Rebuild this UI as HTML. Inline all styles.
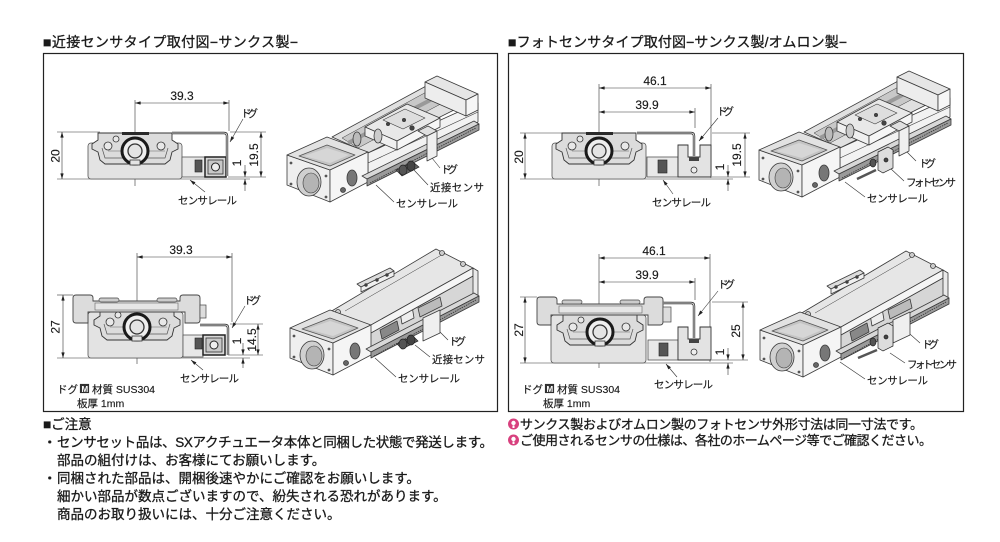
<!DOCTYPE html>
<html><head><meta charset="utf-8"><style>
html,body{margin:0;padding:0;background:#fff;}
svg{display:block;}
text{font-family:"Liberation Sans","Noto Sans CJK JP",sans-serif;fill:#1a1a1a;}
.dk{stroke:#1a1a1a;stroke-width:0.3;}
.lb{stroke:#1a1a1a;stroke-width:0.15;}
</style></head><body>
<svg width="1000" height="542" viewBox="0 0 1000 542" xmlns="http://www.w3.org/2000/svg">
<defs>
<marker id="ar" viewBox="0 0 10 6" refX="10" refY="3" markerWidth="6" markerHeight="3.4" markerUnits="userSpaceOnUse" orient="auto-start-reverse"><path d="M0,0 L10,3 L0,6 Z" fill="#222"/></marker>
<g id="carA">
<path d="M-37,-18 L37,-18 L37,-11 L43,-7 L43,-2 L37,1 L35,9 L30,13 L-30,13 L-35,9 L-37,1 L-43,-2 L-43,-7 L-37,-11 Z" fill="#dcdcdc" stroke="#333" stroke-width="0.9"/>
<path d="M-33,-3 L-30,7 L30,7 L33,-3" fill="none" stroke="#555" stroke-width="0.7"/>
<circle cx="-27" cy="-5" r="4" fill="#e8e8e8" stroke="#333" stroke-width="0.8"/>
<circle cx="-19" cy="-12" r="3" fill="#e8e8e8" stroke="#333" stroke-width="0.8"/>
<circle cx="26" cy="-5" r="4" fill="#e8e8e8" stroke="#333" stroke-width="0.8"/>
<line x1="-27" y1="0" x2="30" y2="0" stroke="#666" stroke-width="0.5"/>
</g>
<g id="nut">
<circle r="13" fill="#efefef" stroke="#1a1a1a" stroke-width="3"/>
<circle r="7" fill="#e4e4e4" stroke="#333" stroke-width="1.3"/>
<rect x="-5" y="9" width="10" height="5" fill="#e4e4e4" stroke="#333" stroke-width="0.8"/>
</g>
<g id="eb" stroke="#3a3a3a" stroke-width="0.8" stroke-linejoin="round">
<polygon points="287,155 330,170 330,202 287,185" fill="#efefef"/>
<polygon points="287,155 327,137 368,152 330,170" fill="#e2e2e2"/>
<polygon points="330,170 368,152 368,182 330,202" fill="#f5f5f5"/>
<polygon points="299,156 327,145 355,155 330,166" fill="#c4c4c4" stroke="#555"/>
<polygon points="304,156 327,148 349,155 330,163" fill="#d6d6d6" stroke="none"/>
<ellipse cx="309" cy="182" rx="12" ry="14" fill="#d0d0d0"/>
<ellipse cx="311" cy="183" rx="8" ry="10" fill="#b4b4b4" stroke-width="0.6"/>
<circle cx="291" cy="163" r="1.4" fill="#555" stroke="none"/>
<circle cx="291" cy="184" r="1.4" fill="#555" stroke="none"/>
<circle cx="326" cy="176" r="1.4" fill="#555" stroke="none"/>
<circle cx="326" cy="197" r="1.4" fill="#555" stroke="none"/>
<ellipse cx="352" cy="178" rx="5" ry="8" fill="#777"/>
<circle cx="343" cy="190" r="2.5" fill="#666"/>
</g>
<g id="iso1" stroke="#3a3a3a" stroke-width="0.8" stroke-linejoin="round">
<polygon points="332,137 428,85 468,103 368,153" fill="#e0e0e0"/>
<polygon points="342,138 430,90 450,99 358,148" fill="#c8c8c8" stroke-width="0.5"/>
<line x1="348" y1="143" x2="440" y2="95" stroke="#999" stroke-width="4"/>
<ellipse cx="357" cy="139" rx="4" ry="7" fill="#bbb"/>
<polygon points="368,153 478,103 478,122 368,175" fill="#f2f2f2"/>
<line x1="368" y1="163" x2="478" y2="112" stroke-width="0.6"/>
<polygon points="425,82 437,76 478,94 466,100" fill="#e6e6e6"/>
<polygon points="425,82 466,100 466,116 425,98" fill="#ededed"/>
<polygon points="466,100 478,94 478,110 466,116" fill="#f6f6f6"/>
<polygon points="365,127 407,104 440,118 397,141" fill="#e8e8e8"/>
<polygon points="365,127 397,141 397,150 365,136" fill="#f0f0f0"/>
<polygon points="397,141 440,118 440,127 397,150" fill="#f6f6f6"/>
<polygon points="383,120 405,109 425,118 403,129" fill="#dedede" stroke-width="0.6"/>
<circle cx="388" cy="124" r="1.6" fill="#444"/>
<circle cx="404" cy="120" r="1.6" fill="#444"/>
<circle cx="412" cy="128" r="2.2" fill="#444"/>
<ellipse cx="378" cy="136" rx="4" ry="7" fill="#ccc"/>
<use href="#eb"/>
<polygon points="362,176 474,121 479,124 367,179" fill="#d8d8d8"/>
<polygon points="367,179 479,124 479,130 367,186" fill="#9a9a9a"/>
<line x1="370" y1="183" x2="476" y2="128" stroke="#333" stroke-dasharray="1.5,1"/>
<polygon points="418,131 428,126 437,131 427,136" fill="#e0e0e0"/>
<polygon points="427,136 437,131 437,156 427,161" fill="#efefef"/>
</g>
<g id="iso2" stroke="#3a3a3a" stroke-width="0.8" stroke-linejoin="round">
<polygon points="362,338 473,276 478,300 368,352" fill="#d6d6d6"/>
<polygon points="400,312 412,306 414,318 402,324" fill="#eee"/>
<polygon points="380,330 397,321 399,330 382,339" fill="#888"/>
<polygon points="418,308 440,297 442,306 420,317" fill="#bbb"/>
<polygon points="330,312 436,249 473,268 362,330" fill="#e6e6e6"/>
<line x1="345" y1="311" x2="445" y2="253" stroke-width="0.5"/>
<polygon points="362,330 473,268 473,276 362,338" fill="#f5f5f5"/>
<polygon points="473,268 478,271 478,300 473,296" fill="#eaeaea"/>
<polygon points="357,284 390,268 394,271 361,287" fill="#ddd"/>
<polygon points="361,287 394,271 394,276 361,292" fill="#f0f0f0"/>
<circle cx="366" cy="285" r="1.3" fill="#444"/><circle cx="377" cy="280" r="1.3" fill="#444"/><circle cx="387" cy="275" r="1.3" fill="#444"/>
<circle cx="338" cy="312" r="2.5" fill="#ccc"/>
<circle cx="362" cy="326" r="2.5" fill="#ccc"/>
<circle cx="442" cy="253" r="2.5" fill="#ccc"/>
<circle cx="463" cy="264" r="2.5" fill="#ccc"/>
<use href="#eb" transform="translate(3,173)"/>
<polygon points="366,349 474,293 479,296 371,352" fill="#d8d8d8"/>
<polygon points="371,352 479,296 479,302 371,358" fill="#9a9a9a"/>
<line x1="374" y1="356" x2="476" y2="300" stroke="#333" stroke-dasharray="1.5,1"/>
<polygon points="423,318 440,310 440,333 423,341" fill="#efefef"/>
</g>
</defs>

<!-- Titles -->
<text class="dk" x="43" y="47" font-size="14" textLength="255">■近接センサタイプ取付図−サンクス製−</text>
<text class="dk" x="508" y="47" font-size="14" textLength="339">■フォトセンサタイプ取付図−サンクス製/オムロン製−</text>

<!-- Frames -->
<rect x="43.5" y="53.5" width="454" height="358" fill="none" stroke="#222" stroke-width="1.2"/>
<rect x="508.5" y="53.5" width="455" height="358" fill="none" stroke="#222" stroke-width="1.2"/>

<g stroke="#333" stroke-width="0.6" fill="none">
<!-- ===== Top-left front view ===== -->
<line x1="135" y1="100" x2="135" y2="186"/>
<line x1="229" y1="100" x2="229" y2="131"/>
<line x1="135" y1="103" x2="229" y2="103" marker-start="url(#ar)" marker-end="url(#ar)"/>
<line x1="57" y1="132" x2="100" y2="132"/>
<line x1="57" y1="179" x2="250" y2="179"/>
<line x1="62" y1="132" x2="62" y2="179" marker-start="url(#ar)" marker-end="url(#ar)"/>
<line x1="230" y1="132" x2="266" y2="132"/>
<line x1="228" y1="177" x2="266" y2="177"/>
<line x1="261" y1="132" x2="261" y2="177" marker-start="url(#ar)" marker-end="url(#ar)"/>
<line x1="245" y1="165" x2="245" y2="177" marker-end="url(#ar)"/>
<line x1="245" y1="191" x2="245" y2="179" marker-end="url(#ar)"/>
<line x1="243" y1="119" x2="230" y2="142" marker-end="url(#ar)"/>
<line x1="205" y1="192" x2="190" y2="180" marker-end="url(#ar)"/>

<!-- ===== Bottom-left front view ===== -->
<line x1="137" y1="253" x2="137" y2="364"/>
<line x1="232" y1="253" x2="232" y2="322"/>
<line x1="137" y1="257" x2="232" y2="257" marker-start="url(#ar)" marker-end="url(#ar)"/>
<line x1="57" y1="295" x2="73" y2="295"/>
<line x1="57" y1="358" x2="250" y2="358"/>
<line x1="63" y1="295" x2="63" y2="358" marker-start="url(#ar)" marker-end="url(#ar)"/>
<line x1="230" y1="324" x2="263" y2="324"/>
<line x1="228" y1="355" x2="263" y2="355"/>
<line x1="258" y1="324" x2="258" y2="355" marker-start="url(#ar)" marker-end="url(#ar)"/>
<line x1="243" y1="343" x2="243" y2="355" marker-end="url(#ar)"/>
<line x1="243" y1="368" x2="243" y2="358" marker-end="url(#ar)"/>
<line x1="245" y1="306" x2="232" y2="328" marker-end="url(#ar)"/>
<line x1="203" y1="370" x2="191" y2="360" marker-end="url(#ar)"/>

<!-- ===== Top-right front view ===== -->
<line x1="599" y1="84" x2="599" y2="186"/>
<line x1="711" y1="84" x2="711" y2="178"/>
<line x1="695" y1="108" x2="695" y2="128"/>
<line x1="599" y1="88" x2="711" y2="88" marker-start="url(#ar)" marker-end="url(#ar)"/>
<line x1="599" y1="112" x2="695" y2="112" marker-start="url(#ar)" marker-end="url(#ar)"/>
<line x1="520" y1="133" x2="563" y2="133"/>
<line x1="520" y1="179" x2="733" y2="179"/>
<line x1="525" y1="133" x2="525" y2="179" marker-start="url(#ar)" marker-end="url(#ar)"/>
<line x1="712" y1="133" x2="750" y2="133"/>
<line x1="712" y1="177" x2="750" y2="177"/>
<line x1="745" y1="133" x2="745" y2="177" marker-start="url(#ar)" marker-end="url(#ar)"/>
<line x1="728" y1="165" x2="728" y2="177" marker-end="url(#ar)"/>
<line x1="728" y1="191" x2="728" y2="179" marker-end="url(#ar)"/>
<line x1="718" y1="118" x2="699" y2="141" marker-end="url(#ar)"/>
<line x1="673" y1="194" x2="663" y2="180" marker-end="url(#ar)"/>

<!-- ===== Bottom-right front view ===== -->
<line x1="599" y1="254" x2="599" y2="368"/>
<line x1="710" y1="254" x2="710" y2="362"/>
<line x1="695" y1="278" x2="695" y2="300"/>
<line x1="599" y1="258" x2="710" y2="258" marker-start="url(#ar)" marker-end="url(#ar)"/>
<line x1="599" y1="282" x2="695" y2="282" marker-start="url(#ar)" marker-end="url(#ar)"/>
<line x1="520" y1="297" x2="537" y2="297"/>
<line x1="520" y1="363" x2="733" y2="363"/>
<line x1="525" y1="297" x2="525" y2="363" marker-start="url(#ar)" marker-end="url(#ar)"/>
<line x1="712" y1="302" x2="748" y2="302"/>
<line x1="712" y1="360" x2="748" y2="360"/>
<line x1="743" y1="302" x2="743" y2="360" marker-start="url(#ar)" marker-end="url(#ar)"/>
<line x1="728" y1="348" x2="728" y2="360" marker-end="url(#ar)"/>
<line x1="728" y1="375" x2="728" y2="363" marker-end="url(#ar)"/>
<line x1="718" y1="291" x2="698" y2="316" marker-end="url(#ar)"/>
<line x1="677" y1="377" x2="666" y2="364" marker-end="url(#ar)"/>

<!-- ===== 3D leaders ===== -->
<line x1="440" y1="168" x2="432" y2="158"/>
<line x1="428" y1="185" x2="414" y2="170"/>
<line x1="394" y1="202" x2="376" y2="185"/>
<line x1="448" y1="340" x2="438" y2="330"/>
<line x1="430" y1="357" x2="415" y2="345"/>
<line x1="396" y1="377" x2="375" y2="358"/>
<line x1="916" y1="161" x2="903" y2="148"/>
<line x1="904" y1="181" x2="890" y2="168"/>
<line x1="865" y1="197" x2="845" y2="182"/>
<line x1="920" y1="343" x2="902" y2="327"/>
<line x1="905" y1="363" x2="890" y2="353"/>
<line x1="865" y1="379" x2="840" y2="362"/>
</g>

<!-- ===== Front view bodies ===== -->
<!-- top-left -->
<rect x="88" y="143" width="94" height="36" rx="3" fill="#e3e3e3" stroke="#555" stroke-width="0.8"/>
<use href="#carA" x="135" y="151"/>
<rect x="122" y="132" width="27" height="3" fill="#2a2a2a"/>
<use href="#nut" x="135" y="151"/>
<rect x="182" y="157" width="23" height="20" fill="#e8e8e8" stroke="#555" stroke-width="0.8"/>
<rect x="195" y="160" width="7" height="12" fill="#555" stroke="#222" stroke-width="0.6"/>
<rect x="205" y="157" width="21" height="20" fill="#d8d8d8" stroke="#222" stroke-width="1.5"/>
<rect x="208" y="160" width="15" height="14" fill="#c8c8c8" stroke="#333" stroke-width="0.8"/>
<circle cx="215.5" cy="167" r="4" fill="#eee" stroke="#222" stroke-width="1"/>
<path d="M172,133 L224,133 Q227,133 227,136 L227,176" fill="none" stroke="#333" stroke-width="2.4"/>
<path d="M172,133 L224,133 Q227,133 227,136 L227,176" fill="none" stroke="#fff" stroke-width="0.8"/>

<!-- bottom-left -->
<rect x="88" y="312" width="95" height="46" rx="3" fill="#e3e3e3" stroke="#555" stroke-width="0.8"/>
<use href="#carA" x="137" y="327"/>
<path d="M73,298 Q73,295 76,295 L90,295 Q93,295 93,298 L93,301 L180,301 L180,298 Q180,295 183,295 L197,295 Q200,295 200,298 L200,320 Q200,323 197,323 L185,323 L185,312 L88,312 L88,323 L76,323 Q73,323 73,320 Z" fill="#dcdcdc" stroke="#444" stroke-width="0.9"/>
<rect x="99" y="298" width="20" height="4" rx="2" fill="#ccc" stroke="#444" stroke-width="0.7"/>
<rect x="157" y="298" width="20" height="4" rx="2" fill="#ccc" stroke="#444" stroke-width="0.7"/>
<rect x="95" y="303" width="83" height="7" fill="#e6e6e6" stroke="#666" stroke-width="0.6"/>
<use href="#nut" x="137" y="327"/>
<rect x="200" y="305" width="6" height="13" fill="#ddd" stroke="#444" stroke-width="0.7"/>
<rect x="183" y="335" width="20" height="22" fill="#e8e8e8" stroke="#555" stroke-width="0.8"/>
<rect x="195" y="338" width="7" height="11" fill="#555" stroke="#222" stroke-width="0.6"/>
<rect x="203" y="335" width="22" height="20" fill="#d8d8d8" stroke="#222" stroke-width="1.5"/>
<rect x="206" y="338" width="16" height="14" fill="#c8c8c8" stroke="#333" stroke-width="0.8"/>
<circle cx="214" cy="345" r="4" fill="#eee" stroke="#222" stroke-width="1"/>
<path d="M200,325 L225,325 Q228,325 228,328 L228,355" fill="none" stroke="#333" stroke-width="2.4"/>
<path d="M200,325 L225,325 Q228,325 228,328 L228,355" fill="none" stroke="#fff" stroke-width="0.8"/>

<!-- top-right -->
<rect x="552" y="143" width="94" height="36" rx="3" fill="#e3e3e3" stroke="#555" stroke-width="0.8"/>
<use href="#carA" x="599" y="151"/>
<rect x="586" y="132" width="27" height="3" fill="#2a2a2a"/>
<use href="#nut" x="599" y="151"/>
<rect x="647" y="157" width="31" height="20" fill="#e8e8e8" stroke="#555" stroke-width="0.8"/>
<rect x="658" y="160" width="9" height="13" fill="#555" stroke="#222" stroke-width="0.6"/>
<path d="M678,145 L688,145 L688,157 L700,157 L700,145 L711,145 L711,177 L678,177 Z" fill="#e3e3e3" stroke="#333" stroke-width="0.9"/>
<rect x="689" y="157" width="10" height="4" fill="#444"/>
<circle cx="694" cy="170" r="3" fill="#eee" stroke="#333" stroke-width="0.8"/>
<path d="M637,133 L691,133 Q694,133 694,136 L694,156" fill="none" stroke="#333" stroke-width="2.4"/>
<path d="M637,133 L691,133 Q694,133 694,136 L694,156" fill="none" stroke="#fff" stroke-width="0.8"/>

<!-- bottom-right -->
<rect x="551" y="315" width="95" height="48" rx="3" fill="#e3e3e3" stroke="#555" stroke-width="0.8"/>
<use href="#carA" x="600" y="332"/>
<path d="M537,300 Q537,297 540,297 L554,297 Q557,297 557,300 L557,304 L644,304 L644,300 Q644,297 647,297 L660,297 Q663,297 663,300 L663,322 Q663,325 660,325 L648,325 L648,315 L551,315 L551,325 L540,325 Q537,325 537,322 Z" fill="#dcdcdc" stroke="#444" stroke-width="0.9"/>
<rect x="562" y="300" width="20" height="4" rx="2" fill="#ccc" stroke="#444" stroke-width="0.7"/>
<rect x="620" y="300" width="20" height="4" rx="2" fill="#ccc" stroke="#444" stroke-width="0.7"/>
<rect x="559" y="306" width="83" height="7" fill="#e6e6e6" stroke="#666" stroke-width="0.6"/>
<use href="#nut" x="600" y="332"/>
<rect x="663" y="307" width="8" height="15" fill="#ddd" stroke="#444" stroke-width="0.7"/>
<rect x="648" y="340" width="30" height="20" fill="#e8e8e8" stroke="#555" stroke-width="0.8"/>
<rect x="659" y="343" width="9" height="13" fill="#555" stroke="#222" stroke-width="0.6"/>
<path d="M678,327 L688,327 L688,339 L700,339 L700,327 L711,327 L711,360 L678,360 Z" fill="#e3e3e3" stroke="#333" stroke-width="0.9"/>
<rect x="689" y="339" width="10" height="4" fill="#444"/>
<circle cx="694" cy="352" r="3" fill="#eee" stroke="#333" stroke-width="0.8"/>
<path d="M663,303 L691,303 Q694,303 694,306 L694,338" fill="none" stroke="#333" stroke-width="2.4"/>
<path d="M663,303 L691,303 Q694,303 694,306 L694,338" fill="none" stroke="#fff" stroke-width="0.8"/>

<!-- ===== 3D views ===== -->
<use href="#iso1"/>
<g stroke="#222" stroke-width="0.7">
<polygon points="396,170 413,162 419,167 402,176" fill="#666"/>
<ellipse cx="403" cy="170" rx="4" ry="5" fill="#555"/>
<ellipse cx="411" cy="166" rx="4" ry="5" fill="#444"/>
</g>
<use href="#iso1" transform="translate(472,-5)"/>
<g stroke="#222" stroke-width="0.7">
<polygon points="878,152 888,147 893,150 893,168 883,173 878,170" fill="#ddd"/>
<ellipse cx="873" cy="163" rx="3" ry="4" fill="#555"/>
<circle cx="886" cy="160" r="2" fill="#444"/>
<line x1="857" y1="179" x2="876" y2="170" stroke="#555" stroke-width="2.5"/>
</g>
<use href="#iso2"/>
<g stroke="#222" stroke-width="0.7">
<polygon points="397,344 413,336 418,341 402,349" fill="#666"/>
<ellipse cx="403" cy="344" rx="4" ry="5" fill="#555"/>
<ellipse cx="411" cy="340" rx="4" ry="5" fill="#444"/>
</g>
<use href="#iso2" transform="translate(470,2)"/>
<g stroke="#222" stroke-width="0.7">
<polygon points="878,328 888,323 893,326 893,346 883,351 878,348" fill="#ddd"/>
<ellipse cx="873" cy="342" rx="3" ry="4" fill="#555"/>
<circle cx="886" cy="337" r="2" fill="#444"/>
<line x1="858" y1="358" x2="877" y2="350" stroke="#555" stroke-width="2.5"/>
</g>

<!-- ===== Dimension texts ===== -->
<g font-size="12" text-anchor="middle" class="lb">
<text x="182" y="100">39.3</text>
<text transform="translate(59.5,156) rotate(-90)">20</text>
<text transform="translate(258,155) rotate(-90)">19.5</text>
<text transform="translate(241,163) rotate(-90)">1</text>
<text x="181" y="254">39.3</text>
<text transform="translate(59.5,327) rotate(-90)">27</text>
<text transform="translate(256,340) rotate(-90)">14.5</text>
<text transform="translate(241,341) rotate(-90)">1</text>
<text x="655" y="85">46.1</text>
<text x="647" y="109">39.9</text>
<text transform="translate(523,157) rotate(-90)">20</text>
<text transform="translate(741,155) rotate(-90)">19.5</text>
<text transform="translate(724,167) rotate(-90)">1</text>
<text x="654" y="255">46.1</text>
<text x="647" y="279">39.9</text>
<text transform="translate(523,330) rotate(-90)">27</text>
<text transform="translate(740,331) rotate(-90)">25</text>
<text transform="translate(724,352) rotate(-90)">1</text>
</g>

<!-- ===== Labels ===== -->
<g font-size="10.5" class="lb">
<text x="241" y="117" textLength="17">ドグ</text>
<text x="178" y="204" textLength="59">センサレール</text>
<text x="244" y="304" textLength="17">ドグ</text>
<text x="180" y="382" textLength="59">センサレール</text>
<text x="717" y="115" textLength="17">ドグ</text>
<text x="652" y="206" textLength="59">センサレール</text>
<text x="718" y="288" textLength="17">ドグ</text>
<text x="654" y="388" textLength="59">センサレール</text>

<text x="441" y="173" textLength="17">ドグ</text>
<text x="430" y="191" textLength="54">近接センサ</text>
<text x="396" y="207" textLength="62">センサレール</text>
<text x="449" y="345" textLength="17">ドグ</text>
<text x="432" y="363" textLength="53">近接センサ</text>
<text x="398" y="382" textLength="62">センサレール</text>
<text x="919" y="167" textLength="17">ドグ</text>
<text x="906" y="186" textLength="50">フォトセンサ</text>
<text x="867" y="202" textLength="61">センサレール</text>
<text x="922" y="348" textLength="17">ドグ</text>
<text x="907" y="368" textLength="50">フォトセンサ</text>
<text x="867" y="384" textLength="61">センサレール</text>

<text x="57" y="393">ドグ</text>
<rect x="80" y="384" width="9" height="9" fill="#333"/>
<text x="81.5" y="392" font-size="8" style="fill:#fff;stroke:none" font-weight="bold">M</text>
<text x="92" y="393">材質 SUS304</text>
<text x="77" y="407">板厚 1mm</text>
<text x="522" y="393">ドグ</text>
<rect x="545" y="384" width="9" height="9" fill="#333"/>
<text x="546.5" y="392" font-size="8" style="fill:#fff;stroke:none" font-weight="bold">M</text>
<text x="557" y="393">材質 SUS304</text>
<text x="543" y="407">板厚 1mm</text>
</g>

<!-- ===== Notes ===== -->
<g font-size="13.5" class="dk">
<text x="43" y="429">■ご注意</text>
<text x="43" y="447">・</text>
<text x="57" y="447" textLength="436">センサセット品は、SXアクチュエータ本体と同梱した状態で発送します。</text>
<text x="57" y="465">部品の組付けは、お客様にてお願いします。</text>
<text x="43" y="483">・</text>
<text x="57" y="483">同梱された部品は、開梱後速やかにご確認をお願いします。</text>
<text x="57" y="501">細かい部品が数点ございますので、紛失される恐れがあります。</text>
<text x="57" y="519">商品のお取り扱いには、十分ご注意ください。</text>
</g>
<g>
<circle cx="513.5" cy="424" r="5.5" fill="#d8407e"/>
<circle cx="513.5" cy="423" r="2.2" fill="#fff"/>
<rect x="512.5" y="425.5" width="2" height="2.5" fill="#fff"/>
<circle cx="513.5" cy="440" r="5.5" fill="#d8407e"/>
<circle cx="513.5" cy="439" r="2.2" fill="#fff"/>
<rect x="512.5" y="441.5" width="2" height="2.5" fill="#fff"/>
</g>
<g font-size="13" class="dk">
<text x="520" y="429" textLength="403">サンクス製およびオムロン製のフォトセンサ外形寸法は同一寸法です。</text>
<text x="520" y="445" textLength="412">ご使用されるセンサの仕様は、各社のホームページ等でご確認ください。</text>
</g>
</svg>
</body></html>
